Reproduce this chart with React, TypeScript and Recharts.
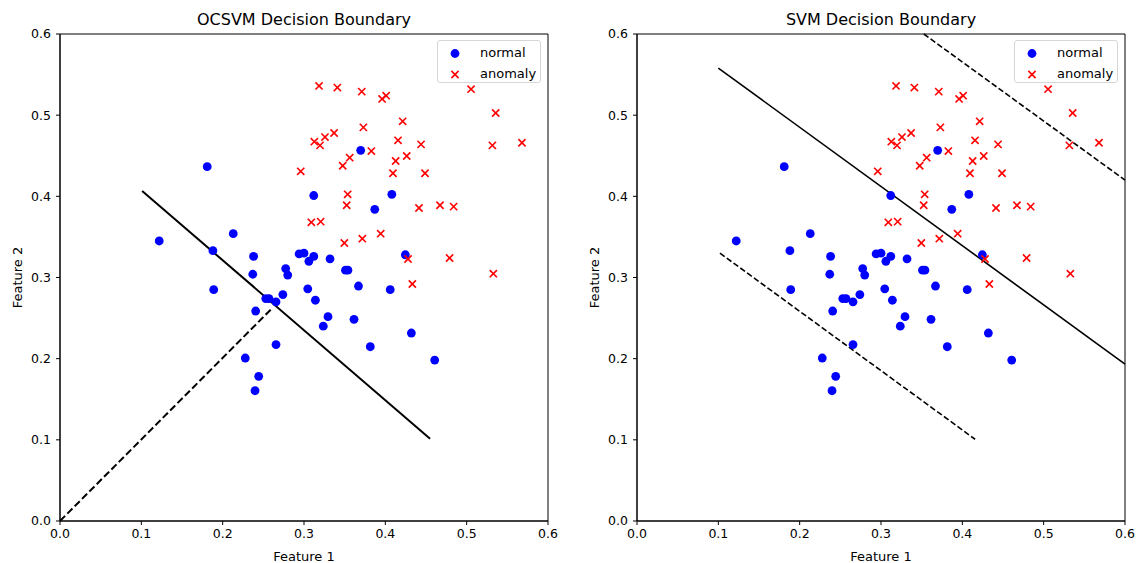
import React from "react";
import {
  ScatterChart,
  Scatter,
  XAxis,
  YAxis,
  ReferenceLine,
  ReferenceArea
} from "recharts";

// points
const normalX = [
  0.122, 0.181, 0.213, 0.188, 0.238, 0.237, 0.189, 0.2775, 0.28, 0.294,
  0.3, 0.312, 0.306, 0.332, 0.312, 0.408, 0.387, 0.351, 0.354, 0.4246,
  0.3046, 0.274, 0.253, 0.257, 0.2656, 0.314, 0.367, 0.406, 0.2406, 0.3295,
  0.3237, 0.3615, 0.432, 0.2656, 0.3815, 0.2278, 0.2443, 0.2398, 0.4607, 0.3697
];
const normalY = [
  0.345, 0.4365, 0.354, 0.333, 0.326, 0.304, 0.285, 0.311, 0.303, 0.329,
  0.33, 0.326, 0.32, 0.323, 0.401, 0.4025, 0.384, 0.309, 0.309, 0.328,
  0.286, 0.279, 0.274, 0.274, 0.27, 0.272, 0.2895, 0.285, 0.2587, 0.2517,
  0.24, 0.2485, 0.2316, 0.2174, 0.2147, 0.2008, 0.1783, 0.1605, 0.1983, 0.4567
];

const anomalyX = [
  0.3185, 0.341, 0.371, 0.396, 0.401, 0.5054, 0.5357, 0.4213, 0.373, 0.337,
  0.3258, 0.3127, 0.3197, 0.4156, 0.4439, 0.5316, 0.568, 0.3828, 0.3562, 0.3476,
  0.4263, 0.4127, 0.4094, 0.4488, 0.296, 0.3537, 0.3525, 0.4414, 0.4672, 0.484,
  0.309, 0.3205, 0.3496, 0.3717, 0.3943, 0.4279, 0.479, 0.5328, 0.4332
];
const anomalyY = [
  0.536, 0.534, 0.529, 0.52, 0.524, 0.532, 0.5027, 0.4924, 0.485, 0.478,
  0.473, 0.4673, 0.4628, 0.469, 0.464, 0.4628, 0.466, 0.4558, 0.4476, 0.4377,
  0.4497, 0.4435, 0.4284, 0.4284, 0.4308, 0.4025, 0.389, 0.3856, 0.389, 0.3873,
  0.368, 0.3688, 0.3425, 0.3478, 0.354, 0.3228, 0.324, 0.3047, 0.292
];

const axisTicks = [0, 0.1, 0.2, 0.3, 0.4, 0.5, 0.6];

// boundary segments [x1, y1, x2, y2]
const ocsvmBoundary = [0.101, 0.4066, 0.455, 0.1014];
const ocsvmDirection = [0, 0, 0.2607, 0.262];
const svmBoundary = [0.1, 0.558, 0.6, 0.1934];
const svmMarginUpper = [0.3526, 0.6, 0.6, 0.42];
const svmMarginLower = [0.102, 0.33, 0.4157, 0.1007];

const FONT = "'DejaVu Sans', Verdana, sans-serif";

const normalData = normalX.map((x, i) => ({ x, y: normalY[i] }));
const anomalyData = anomalyX.map((x, i) => ({ x, y: anomalyY[i] }));

function BlueDot(props: any) {
  const { cx, cy } = props;
  return <circle cx={cx} cy={cy} r={4.4} fill="#0000ff" />;
}

function RedCross(props: any) {
  const { cx, cy } = props;
  const d = 3.6;
  return (
    <g stroke="#ff0000" strokeWidth={1.6}>
      <line x1={cx - d} y1={cy - d} x2={cx + d} y2={cy + d} />
      <line x1={cx - d} y1={cy + d} x2={cx + d} y2={cy - d} />
    </g>
  );
}

function LegendBox({ left }: { left: number }) {
  return (
    <div
      style={{
        position: "absolute",
        left,
        top: 40,
        width: 104,
        height: 43,
        boxSizing: "border-box",
        border: "1px solid #d6d6d6",
        borderRadius: 3,
        background: "rgba(255,255,255,0.8)",
        fontFamily: FONT,
        fontSize: 13,
        color: "#000"
      }}
    >
      <svg width={36} height={43} style={{ position: "absolute", left: 0, top: 0 }}>
        <BlueDot cx={17} cy={12.5} />
        <RedCross cx={17} cy={33.5} />
      </svg>
      <div style={{ position: "absolute", left: 42, top: 4, lineHeight: "16px" }}>normal</div>
      <div style={{ position: "absolute", left: 42, top: 25, lineHeight: "16px" }}>anomaly</div>
    </div>
  );
}

type Segment = { points: number[]; dashed: boolean };

function Panel({
  title,
  left,
  yAxisWidth,
  marginRight,
  yLabelOffset,
  segments,
  lineWidth
}: {
  title: string;
  left: number;
  yAxisWidth: number;
  marginRight: number;
  yLabelOffset: number;
  segments: Segment[];
  lineWidth: number;
}) {
  const width = 569;
  const plotWidth = width - yAxisWidth - marginRight;
  const tickStyle = { fill: "#000", fontSize: 12.5, fontFamily: FONT };
  const dash = `${(lineWidth * 3.6).toFixed(1)} ${(lineWidth * 1.6).toFixed(1)}`;

  return (
    <div style={{ position: "absolute", left, top: 0, width, height: 563 }}>
      <ScatterChart
        width={width}
        height={563}
        margin={{ top: 34, right: marginRight, bottom: 0, left: 0 }}
      >
        <XAxis
          type="number"
          dataKey="x"
          domain={[0, 0.6]}
          ticks={axisTicks}
          tickFormatter={(v: number) => v.toFixed(1)}
          height={42}
          stroke="#000"
          tick={tickStyle}
          tickSize={4}
          tickMargin={4}
          label={{
            value: "Feature 1",
            position: "insideBottom",
            offset: 2,
            style: { fill: "#000", fontSize: 13, fontFamily: FONT }
          }}
        />
        <YAxis
          type="number"
          dataKey="y"
          domain={[0, 0.6]}
          ticks={axisTicks}
          tickFormatter={(v: number) => v.toFixed(1)}
          width={yAxisWidth}
          stroke="#000"
          tick={tickStyle}
          tickSize={4}
          tickMargin={5}
          label={{
            value: "Feature 2",
            angle: -90,
            position: "insideLeft",
            offset: yLabelOffset,
            style: { fill: "#000", fontSize: 13, fontFamily: FONT, textAnchor: "middle" }
          }}
        />
        <ReferenceArea x1={0} x2={0.6} y1={0} y2={0.6} fill="none" stroke="#000" strokeWidth={1} />
        <Scatter
          name="normal"
          data={normalData}
          shape={<BlueDot />}
          isAnimationActive={false}
        />
        <Scatter
          name="anomaly"
          data={anomalyData}
          shape={<RedCross />}
          isAnimationActive={false}
        />
        {segments.map((s, i) => (
          <ReferenceLine
            key={i}
            segment={[
              { x: s.points[0], y: s.points[1] },
              { x: s.points[2], y: s.points[3] }
            ]}
            stroke="#000"
            strokeWidth={lineWidth}
            strokeDasharray={s.dashed ? dash : undefined}
          />
        ))}
      </ScatterChart>
      <div
        style={{
          position: "absolute",
          left: yAxisWidth,
          width: plotWidth,
          top: 10,
          textAlign: "center",
          fontFamily: FONT,
          fontSize: 16,
          lineHeight: "20px",
          color: "#000"
        }}
      >
        {title}
      </div>
      <LegendBox left={yAxisWidth + plotWidth - 111} />
    </div>
  );
}

export default function App() {
  return (
    <div style={{ position: "absolute", left: 0, top: 0, width: 1138, height: 563, background: "#fff" }}>
      <Panel
        title="OCSVM Decision Boundary"
        left={0}
        yAxisWidth={60}
        marginRight={21}
        yLabelOffset={17}
        lineWidth={2}
        segments={[
          { points: ocsvmBoundary, dashed: false },
          { points: ocsvmDirection, dashed: true }
        ]}
      />
      <Panel
        title="SVM Decision Boundary"
        left={569}
        yAxisWidth={68}
        marginRight={13}
        yLabelOffset={25}
        lineWidth={1.6}
        segments={[
          { points: svmBoundary, dashed: false },
          { points: svmMarginUpper, dashed: true },
          { points: svmMarginLower, dashed: true }
        ]}
      />
    </div>
  );
}
